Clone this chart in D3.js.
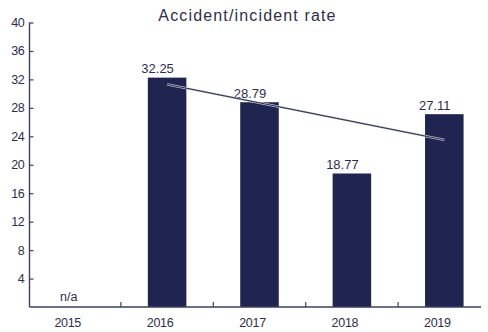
<!DOCTYPE html>
<html>
<head>
<meta charset="utf-8">
<script src="https://cdn.jsdelivr.net/npm/d3@7"></script>
<style>
  html, body { margin: 0; padding: 0; background: #ffffff; }
  svg { display: block; font-family: "Liberation Sans", Arial, Helvetica, sans-serif; }
</style>
</head>
<body>
<svg id="chart" width="488" height="332"></svg>
<script>
// Accident/incident rate by year
const years = ["2015", "2016", "2017", "2018", "2019"];
const rates = [null, 32.25, 28.79, 18.77, 27.11];
const valueLabels = ["n/a", "32.25", "28.79", "18.77", "27.11"];
const yTicks = [4, 8, 12, 16, 20, 24, 28, 32, 36, 40];

// Trend line across the reported years
const trendYears = ["2016", "2019"];
const trendValues = [31.3, 23.5];

const title = "Accident/incident rate";

const navy = "#1f2450";
const ink = "#2c2f4c";
const axisColor = "#3c4060";

const svg = d3.select("#chart");

const x = d3.scaleBand().domain(years).range([28.5, 490.5]).paddingInner(0).paddingOuter(0);
const barFrac = 0.417;
const barW = x.step() * barFrac;
const cx = d => x(d) + x.step() / 2;

const y = d3.scaleLinear().domain([0, 40]).range([307, 22.5]);

// Title
svg.append("text")
  .attr("x", 247.5)
  .attr("y", 21)
  .attr("text-anchor", "middle")
  .attr("font-size", 16)
  .attr("letter-spacing", "1.15px")
  .attr("fill", ink)
  .text(title);

// Bars
const data = years.map((yr, i) => ({ year: yr, value: rates[i], label: valueLabels[i] }));

svg.append("g")
  .selectAll("rect")
  .data(data.filter(d => d.value != null))
  .join("rect")
  .attr("x", d => cx(d.year) - barW / 2)
  .attr("width", barW)
  .attr("y", d => y(d.value))
  .attr("height", d => y(0) - y(d.value))
  .attr("fill", navy);

// Value labels
svg.append("g")
  .selectAll("text")
  .data(data)
  .join("text")
  .attr("x", d => cx(d.year) - (d.value == null ? 6 : 9.5))
  .attr("y", d => d.value == null ? y(0) - 6 : y(d.value) - 4.5)
  .attr("text-anchor", "middle")
  .attr("font-size", d => d.value == null ? 12.5 : 13)
  .attr("fill", ink)
  .text(d => d.label);

// Trend line with a faint light halo
const trendPts = trendYears.map((yr, i) => [cx(yr), y(trendValues[i])]);
const line = d3.line();
svg.append("path")
  .attr("d", line(trendPts))
  .attr("fill", "none")
  .attr("stroke", "#e2e3ea")
  .attr("stroke-width", 2.4);
svg.append("path")
  .attr("d", line(trendPts))
  .attr("fill", "none")
  .attr("stroke", "#3a3d5a")
  .attr("stroke-width", 1.1);

// Y axis (ticks pointing inward)
const yAxis = d3.axisRight(y).tickValues(yTicks).tickSize(4).tickFormat(d3.format("d"));
const gy = svg.append("g").attr("transform", "translate(29.5,0)").call(yAxis);
gy.select(".domain").attr("d", `M0,${y(40)}V${y(0)}`).attr("stroke", axisColor).attr("stroke-width", 1.4);
gy.selectAll(".tick line").attr("stroke", axisColor).attr("stroke-width", 1.2);
gy.selectAll(".tick text")
  .attr("x", -5)
  .attr("text-anchor", "end")
  .attr("font-size", 12.5)
  .attr("font-family", "Liberation Sans, Arial, sans-serif")
  .attr("letter-spacing", "-0.3px")
  .attr("fill", ink);

// X axis: separators between categories, labels centred under bands
const gx = svg.append("g").attr("transform", `translate(0,${y(0)})`);
gx.append("line")
  .attr("x1", 29.5).attr("x2", 481)
  .attr("y1", 0).attr("y2", 0)
  .attr("stroke", axisColor).attr("stroke-width", 1.4);
gx.selectAll("line.sep")
  .data(years.slice(1))
  .join("line")
  .attr("class", "sep")
  .attr("x1", d => x(d)).attr("x2", d => x(d))
  .attr("y1", 0).attr("y2", -5)
  .attr("stroke", axisColor).attr("stroke-width", 1.2);
gx.selectAll("text")
  .data(years)
  .join("text")
  .attr("x", d => cx(d) - 7)
  .attr("y", 20)
  .attr("text-anchor", "middle")
  .attr("font-size", 12.5)
  .attr("letter-spacing", "-0.3px")
  .attr("fill", ink)
  .text(d => d);
</script>
</body>
</html>
